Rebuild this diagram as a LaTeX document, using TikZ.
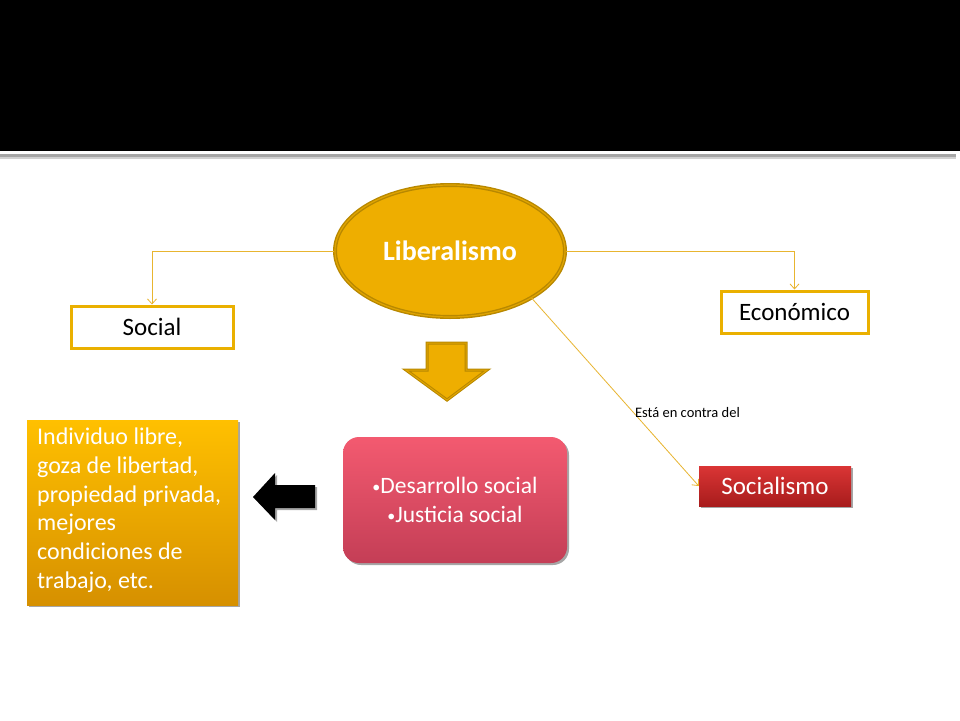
\documentclass[tikz,border=0pt]{standalone}
\usepackage{fontspec}
\setmainfont{Carlito}
\usetikzlibrary{arrows.meta,shadows,shapes.geometric}
\definecolor{gold}{HTML}{EEAE00}
\definecolor{golddark}{HTML}{B88800}
\definecolor{conncol}{HTML}{E8B530}
\definecolor{boxgold}{HTML}{EAB000}
\definecolor{redtop}{HTML}{DA3535}
\definecolor{redbot}{HTML}{A81C1C}
\tikzset{
  conn/.style={draw=conncol, line width=0.8pt, -{Straight Barb[length=5pt,width=9pt]}},
  wbox/.style={draw=boxgold, line width=3pt, fill=white, inner sep=0pt, font=\fontsize{25}{28}\selectfont},
  shad/.style={drop shadow={shadow xshift=2pt, shadow yshift=-2pt, opacity=0.35, fill=black}},
}
\newcommand{\smbul}{{\fontsize{16}{16}\selectfont\raisebox{1pt}{•}}}
\begin{document}
\begin{tikzpicture}[x=1pt,y=-1pt]
\useasboundingbox (0,0) rectangle (960,720);
\fill[white] (0,0) rectangle (960,720);
% header band
\fill[black] (0,0) rectangle (960,151);
\fill[gray!70] (0,154) rectangle (956,157);
\fill[gray!35] (0,157) rectangle (956,158.5);

% central ellipse
\node[ellipse, minimum width=230, minimum height=132, inner sep=0pt,
      fill=gold, draw=golddark, line width=1.4pt, double=gold!75!golddark, double distance=1.2pt,
      text=white, font=\bfseries\fontsize{28}{30}\selectfont] (lib) at (450,251) {Liberalismo};

% boxes
\node[wbox, minimum width=162, minimum height=42] (soc) at (152,327) {Social};
\draw[boxgold, line width=0.7pt] ([shift={(2.6pt,-2.6pt)}]soc.north west) rectangle ([shift={(-2.6pt,2.6pt)}]soc.south east);
\node[wbox, minimum width=147, minimum height=42] (eco) at (794.5,312) {Económico};
\draw[boxgold, line width=0.7pt] ([shift={(2.6pt,-2.6pt)}]eco.north west) rectangle ([shift={(-2.6pt,2.6pt)}]eco.south east);

\node[shad, minimum width=152, minimum height=40, inner sep=0pt, top color=redtop, bottom color=redbot,
      text=white, font=\fontsize{25}{28}\selectfont] (socm) at (775,486) {Socialismo};

% connectors
\draw[conn] (lib.west) -| (soc.north);
\draw[conn] (lib.east) -| (eco.north);
\draw[conn] (lib.-30) -- (socm.west);
\node[font=\fontsize{14.5}{16}\selectfont, inner sep=0pt] (lab) at (687.5,413) {Está en contra del};

% down arrow
\draw[fill=gold, draw=golddark, line width=1pt, double=gold!75!golddark, double distance=1pt, line join=miter]
  (427,343) -- (466,343) -- (466,370) -- (487,370) -- (447,400) -- (406,370) -- (427,370) -- cycle;

% pink box
\node[shad, rounded corners=16pt, minimum width=224, minimum height=126, inner sep=0pt,
      top color={rgb,255:red,243;green,90;blue,112}, bottom color={rgb,255:red,196;green,62;blue,86},
      text=white, align=center, font=\fontsize{23.5}{29}\selectfont] (pink) at (455,500)
      {\smbul Desarrollo social\\\smbul Justicia social};

% orange box
\node[shad, minimum width=211, minimum height=185, inner sep=0pt,
      top color={rgb,255:red,255;green,192;blue,0}, bottom color={rgb,255:red,214;green,144;blue,0},
      text=white] (ora) at (132.5,512.5) {};
\node[anchor=north west, inner sep=0pt, align=left, text=white, font=\fontsize{24}{28.7}\selectfont]
  (oratext) at (37,428) {Individuo libre,\\goza de libertad,\\propiedad privada,\\mejores\\condiciones de\\trabajo, etc.};

% black left arrow
\fill[black, shad] (253,497) -- (275,473) -- (275,485) -- (315,485) -- (315,508) -- (275,508) -- (275,520) -- cycle;
\end{tikzpicture}
\end{document}
